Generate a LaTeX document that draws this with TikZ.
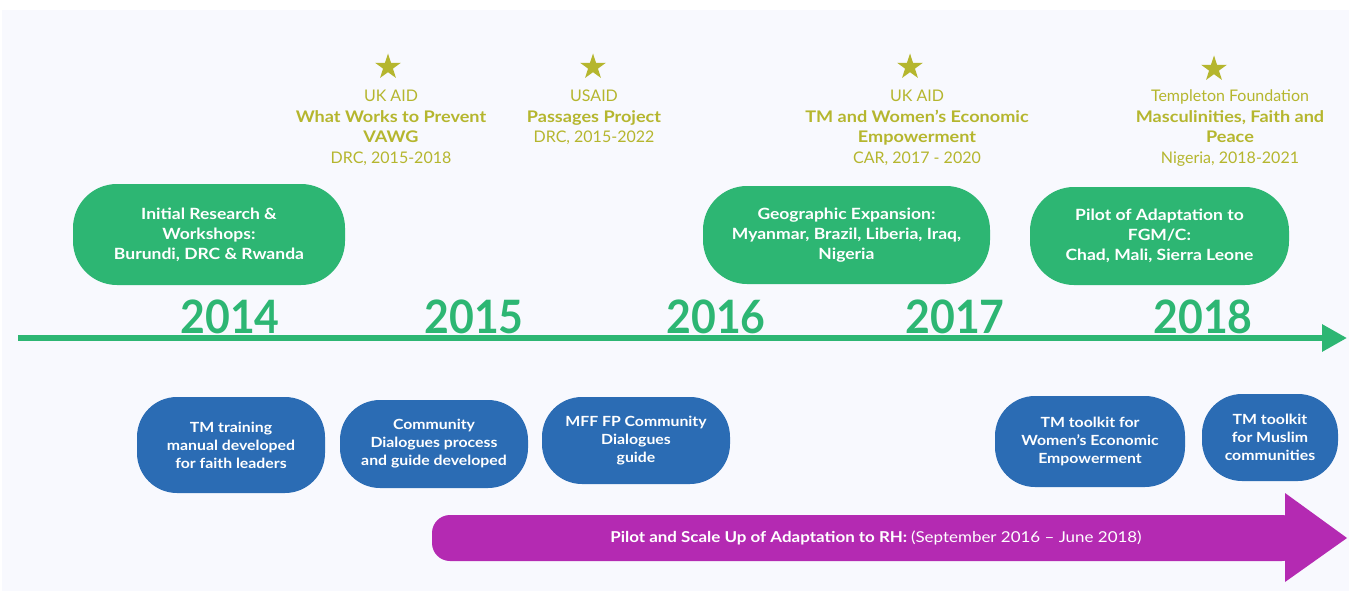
\documentclass[tikz,border=0pt]{standalone}
\usepackage{fontspec}
\setmainfont{Lato}[BoldFeatures={FakeStretch=1.13}]
\newfontfamily\yearfont{Lato}[FakeStretch=0.93]
\usetikzlibrary{positioning,arrows.meta,shapes.geometric}

\definecolor{tmgreen}{RGB}{45,182,115}
\definecolor{tmblue}{RGB}{43,108,180}
\definecolor{tmpurple}{RGB}{180,42,178}
\definecolor{tmolive}{RGB}{181,182,46}
\definecolor{panelbg}{RGB}{248,249,254}

\begin{document}
\begin{tikzpicture}[x=1pt,y=-1pt]

\tikzstyle{phase} = [rectangle, fill=tmgreen, rounded corners=44pt, inner sep=0, align=center, text=white, font=\bfseries\fontsize{15.5}{20}\selectfont]
\tikzstyle{tool} = [rectangle, fill=tmblue, rounded corners=40pt, inner sep=0, align=center, text=white, font=\bfseries\fontsize{14}{18}\selectfont]
\tikzstyle{fundstar} = [star, star points=5, star point ratio=2.6, fill=tmolive, inner sep=0, minimum size=27pt]
\tikzstyle{fundtext} = [anchor=north, inner sep=0, align=center, text=tmolive, font=\fontsize{16}{20.5}\selectfont]
\tikzstyle{yearlabel} = [anchor=base, inner sep=0, text=tmgreen, font=\yearfont\bfseries\fontsize{46}{46}\selectfont]
\tikzstyle{timeline} = [-{Triangle[length=25pt,width=26pt]}, draw=tmgreen, line width=6pt]

\useasboundingbox (0,0) rectangle (1349,591);
\fill[panelbg] (2,10) rectangle (1349,591);

% timeline and years
\coordinate (tlstart) at (18,338);
\coordinate (tlend) at (1347,338);
\draw[timeline] (tlstart) -- (tlend);

\node[yearlabel] (y2014) at (230,333) {2014};
\node[yearlabel] (y2015) at (474,333) {2015};
\node[yearlabel] (y2016) at (716,333) {2016};
\node[yearlabel] (y2017) at (955,333) {2017};
\node[yearlabel] (y2018) at (1203,333) {2018};

% funders
\node[fundstar] (starvawg) at (388,67) {};
\node[fundstar] (starpassages) at (593,67) {};
\node[fundstar] (starwee) at (910,67) {};
\node[fundstar] (starmfp) at (1214,69) {};

\node[fundtext] (fundvawg) at (391,90) {UK AID\\\textbf{What Works to Prevent}\\\textbf{VAWG}\\DRC, 2015-2018};
\node[fundtext] (fundpassages) at (594,90) {USAID\\\textbf{Passages Project}\\DRC, 2015-2022};
\node[fundtext] (fundwee) at (917,90) {UK AID\\\textbf{TM and Women’s Economic}\\\textbf{Empowerment}\\CAR, 2017 - 2020};
\node[fundtext] (fundmfp) at (1230,90) {Templeton Foundation\\\textbf{Masculinities, Faith and}\\\textbf{Peace}\\Nigeria, 2018-2021};

% phases above the line
\node[phase, minimum width=272pt, minimum height=101pt] (research) at (209,234.5) {Initial Research \&\\Workshops:\\Burundi, DRC \& Rwanda};
\node[phase, minimum width=287pt, minimum height=98pt] (expansion) at (846.5,235) {Geographic Expansion:\\Myanmar, Brazil, Liberia, Iraq,\\Nigeria};
\node[phase, minimum width=259pt, minimum height=98pt] (fgmc) at (1159.5,236) {Pilot of Adaptation to\\FGM/C:\\Chad, Mali, Sierra Leone};

% tools below the line
\node[tool, minimum width=188pt, minimum height=96pt] (manual) at (231,445) {TM training\\manual developed\\for faith leaders};
\node[tool, minimum width=188pt, minimum height=88pt] (dialogues) at (434,444) {Community\\Dialogues process\\and guide developed};
\node[tool, minimum width=188pt, minimum height=87pt] (mfffp) at (636,440.5) {MFF FP Community\\Dialogues\\guide};
\node[tool, minimum width=190pt, minimum height=91pt] (weekit) at (1090,441.5) {TM toolkit for\\Women’s Economic\\Empowerment};
\node[tool, minimum width=136pt, minimum height=87pt] (muslimkit) at (1270,437.5) {TM toolkit\\for Muslim\\communities};

% RH arrow
\fill[tmpurple, rounded corners=18pt] (432,515) rectangle (1300,561);
\fill[tmpurple] (1285,493) -- (1347,538) -- (1285,582) -- cycle;
\node[text=white, inner sep=0, font=\fontsize{15}{18}\selectfont] (rhphase) at (876,538) {\textbf{Pilot and Scale Up of Adaptation to RH:} {\addfontfeatures{FakeStretch=1.13}(September 2016 – June 2018)}};

\end{tikzpicture}
\end{document}
